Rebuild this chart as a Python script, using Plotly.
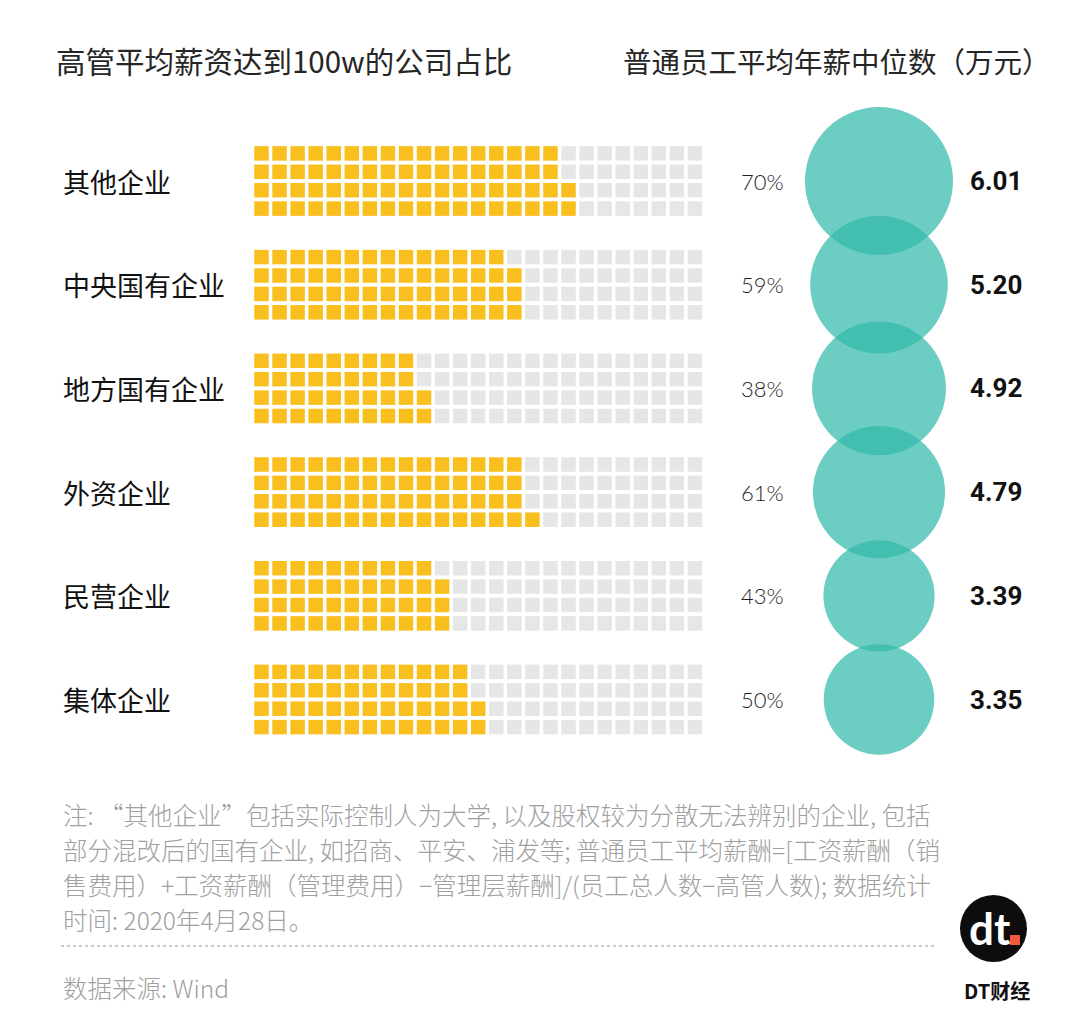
import math
import plotly.graph_objects as go

# ---------------- data ----------------
categories = ["其他企业", "中央国有企业", "地方国有企业", "外资企业", "民营企业", "集体企业"]
pct_over_1m = [70, 59, 38, 61, 43, 50]          # 高管平均薪资达到100w的公司占比 (%)
median_salary = [6.01, 5.20, 4.92, 4.79, 3.39, 3.35]  # 普通员工平均年薪中位数 (万元)

title_left = "高管平均薪资达到100w的公司占比"
title_right = "普通员工平均年薪中位数（万元）"
note_lines = [
    "注: “其他企业”包括实际控制人为大学, 以及股权较为分散无法辨别的企业, 包括",
    "部分混改后的国有企业, 如招商、平安、浦发等; 普通员工平均薪酬=[工资薪酬（销",
    "售费用）+工资薪酬（管理费用）−管理层薪酬]/(员工总人数−高管人数); 数据统计",
    "时间: 2020年4月28日。",
]
source_text = "数据来源: Wind"
brand_text = "DT财经"

# ---------------- layout constants ----------------
W, H = 1080, 1022
OFF = 8  # page body margin compensation
ROW_Y0, ROW_PITCH = 181, 103.7
GRID_X0, CELL_DX, CELL_DY = 261.5, 18.06, 18.4
N_COLS, N_ROWS = 25, 4
CIRCLE_X = 879
MAX_DIAM = 148
YELLOW = "#F8BF1E"
GREY = "#E6E6E6"
TEAL = "rgba(51,186,171,0.72)"
CJK = "Noto Sans CJK SC"

row_y = [ROW_Y0 + i * ROW_PITCH for i in range(len(categories))]

fig = go.Figure()

# waffle cells (column-major, filled bottom-up)
fx, fy, ex, ey = [], [], [], []
for yc, pct in zip(row_y, pct_over_1m):
    for k in range(N_COLS * N_ROWS):
        col = k // N_ROWS
        r_from_bottom = k % N_ROWS
        x = GRID_X0 + col * CELL_DX
        y = yc + (1.5 - r_from_bottom) * CELL_DY
        if k < pct:
            fx.append(x); fy.append(y)
        else:
            ex.append(x); ey.append(y)

fig.add_trace(go.Scatter(x=ex, y=ey, mode="markers", hoverinfo="skip",
                         marker=dict(symbol="square", size=14.5, color=GREY, line=dict(width=0))))
fig.add_trace(go.Scatter(x=fx, y=fy, mode="markers", hoverinfo="skip",
                         marker=dict(symbol="square", size=14.5, color=YELLOW, line=dict(width=0))))

# circles (area proportional to salary)
vmax = max(median_salary)
sizes = [MAX_DIAM * math.sqrt(v / vmax) for v in median_salary]
fig.add_trace(go.Scatter(x=[CIRCLE_X] * len(median_salary), y=row_y, mode="markers",
                         hoverinfo="skip",
                         marker=dict(size=sizes, color=TEAL, opacity=1, line=dict(width=0))))

ann = []
# titles
ann.append(dict(x=54, y=60, text=title_left, xanchor="left", yanchor="middle", showarrow=False,
                font=dict(family=CJK, size=29.5, color="#262626")))
ann.append(dict(x=621, y=60, text=title_right, xanchor="left", yanchor="middle", showarrow=False,
                font=dict(family=CJK, size=28.5, color="#262626")))

for yc, cat, pct, val in zip(row_y, categories, pct_over_1m, median_salary):
    ann.append(dict(x=61, y=yc, text=cat, xanchor="left", yanchor="middle", showarrow=False,
                    font=dict(family=CJK, size=27, color="#111111", weight=400)))
    ann.append(dict(x=762, y=yc, text=f"{pct}%", xanchor="center", yanchor="middle", showarrow=False,
                    font=dict(family="Lato", size=22, color="#1f1f1f", weight=300)))
    ann.append(dict(x=968, y=yc, text=f"<b>{val:.2f}</b>", xanchor="left", yanchor="middle",
                    showarrow=False, font=dict(family="Roboto", size=26, color="#111111")))

# notes
for i, line in enumerate(note_lines):
    ann.append(dict(x=61, y=814 + i * 35.3, text=line, xanchor="left", yanchor="middle",
                    showarrow=False, font=dict(family=CJK, size=24.5, color="#a0a0a0", weight=300)))
ann.append(dict(x=61, y=987, text=source_text, xanchor="left", yanchor="middle", showarrow=False,
                font=dict(family=CJK, size=24.5, color="#a0a0a0", weight=300)))

# brand logo
ann.append(dict(x=990, y=928, text="<b>dt</b>", xanchor="center", yanchor="middle", showarrow=False,
                font=dict(family="Lato", size=44, color="white", weight=900)))
ann.append(dict(x=997, y=990, text="<b>DT财经</b>", xanchor="center", yanchor="middle", showarrow=False,
                font=dict(family=CJK, size=20, color="#111111")))

shapes = [
    dict(type="line", x0=61, x1=935, y0=946, y1=946, xref="x", yref="y",
         line=dict(color="#bbbbbb", width=1.5, dash="dot")),
    dict(type="circle", x0=960, x1=1027, y0=895, y1=962, xref="x", yref="y",
         fillcolor="#0d0d0d", line=dict(width=0), layer="below"),
    dict(type="rect", x0=1010, x1=1020, y0=935, y1=945, xref="x", yref="y",
         fillcolor="#ef5a3c", line=dict(width=0)),
]

fig.update_layout(
    width=W, height=H, margin=dict(l=0, r=0, t=0, b=0),
    paper_bgcolor="white", plot_bgcolor="white", showlegend=False,
    xaxis=dict(range=[OFF, W + OFF], visible=False, fixedrange=True),
    yaxis=dict(range=[H + OFF, OFF], visible=False, fixedrange=True),
    annotations=ann, shapes=shapes,
)

fig.write_html("out.html")
